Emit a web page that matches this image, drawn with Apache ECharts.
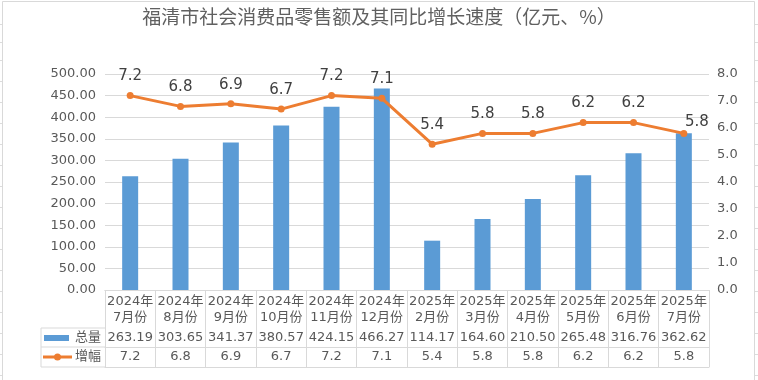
<!DOCTYPE html>
<html><head><meta charset="utf-8">
<script src="https://cdn.jsdelivr.net/npm/echarts@6/dist/echarts.min.js"></script>
<style>html,body{margin:0;padding:0;background:#fff}#c{width:758px;height:380px}</style>
</head><body><div id="c"></div>
<script>
const titleText = '福清市社会消费品零售额及其同比增长速度（亿元、%）';
const categories = ['2024年\n7月份','2024年\n8月份','2024年\n9月份','2024年\n10月份','2024年\n11月份','2024年\n12月份','2025年\n2月份','2025年\n3月份','2025年\n4月份','2025年\n5月份','2025年\n6月份','2025年\n7月份'];
const totalValues = [263.19, 303.65, 341.37, 380.57, 424.15, 466.27, 114.17, 164.60, 210.50, 265.48, 316.76, 362.62];
const growthValues = [7.2, 6.8, 6.9, 6.7, 7.2, 7.1, 5.4, 5.8, 5.8, 6.2, 6.2, 5.8];
const seriesNames = ['总量', '增幅'];
const leftAxis = {min: 0, max: 500, interval: 50, decimals: 2};
const rightAxis = {min: 0, max: 8, interval: 1, decimals: 1};

const FONT = '"DejaVu Sans", "Noto Sans CJK SC", sans-serif';
const TXT = '#595959';
const LINE = '#d9d9d9';
const BLUE = '#5B9BD5';
const ORANGE = '#ED7D31';

// layout
const gridLeft = 105, gridRight = 49, gridTop = 74, gridBottom = 90;
const W = 758, H = 380;
const tableTop = H - gridBottom;          // 290
const row1 = 38, row2 = 19, row3 = 20;    // row heights
const legendLeft = 41;

const growthData = growthValues.map((v, i) =>
  i === growthValues.length - 1 ? {value: v, label: {offset: [13, 8]}} : v);

const chart = echarts.init(document.getElementById('c'), null, {renderer: 'canvas'});

const y1 = tableTop + row1, y2 = y1 + row2, y3 = y2 + row3;

// faint spreadsheet cell lines outside the chart frame
const sheetRows = [24, 42, 60];
for (let y = 81; y < H; y += 21) sheetRows.push(y);
const sheetTicks = [];
sheetRows.forEach(y => {
  sheetTicks.push({type: 'line', silent: true, shape: {x1: 0, y1: y + 0.5, x2: 2, y2: y + 0.5}, style: {stroke: '#dcdcdc', lineWidth: 1}});
  sheetTicks.push({type: 'line', silent: true, shape: {x1: 755, y1: y + 0.5, x2: 758, y2: y + 0.5}, style: {stroke: '#dcdcdc', lineWidth: 1}});
});

const option = {
  animation: false,
  backgroundColor: '#fff',
  title: {
    text: titleText, left: 'center', top: 2,
    textStyle: {fontSize: 19, fontWeight: 'normal', color: '#606060', fontFamily: '"Noto Sans CJK SC", sans-serif'}
  },
  grid: {left: gridLeft, right: gridRight, top: gridTop, bottom: gridBottom},
  xAxis: [
    {
      type: 'category', data: categories, position: 'bottom',
      axisLine: {show: true, lineStyle: {color: LINE}},
      axisTick: {show: true, length: row1 + row2 + row3, interval: 0, lineStyle: {color: LINE}},
      axisLabel: {interval: 0, margin: 4, lineHeight: 16, fontSize: 13, color: TXT, fontFamily: FONT}
    },
    {
      type: 'category', data: categories, position: 'bottom', offset: row1,
      axisLine: {show: true, lineStyle: {color: LINE}}, axisTick: {show: false},
      axisLabel: {interval: 0, margin: 0, lineHeight: row2, fontSize: 13, color: TXT, fontFamily: FONT,
        formatter: (v, i) => totalValues[i].toFixed(2)}
    },
    {
      type: 'category', data: categories, position: 'bottom', offset: row1 + row2,
      axisLine: {show: true, lineStyle: {color: LINE}}, axisTick: {show: false},
      axisLabel: {interval: 0, margin: 0, lineHeight: row3, fontSize: 13, color: TXT, fontFamily: FONT,
        formatter: (v, i) => growthValues[i].toFixed(1)}
    },
    {
      type: 'category', data: categories, position: 'bottom', offset: row1 + row2 + row3,
      axisLine: {show: true, lineStyle: {color: LINE}}, axisTick: {show: false}, axisLabel: {show: false}
    }
  ],
  yAxis: [
    {
      type: 'value', min: leftAxis.min, max: leftAxis.max, interval: leftAxis.interval,
      axisLine: {show: false}, axisTick: {show: false},
      splitLine: {show: true, lineStyle: {color: LINE}},
      axisLabel: {margin: 9, fontSize: 13, color: TXT, fontFamily: FONT, formatter: v => v.toFixed(leftAxis.decimals)}
    },
    {
      type: 'value', min: rightAxis.min, max: rightAxis.max, interval: rightAxis.interval,
      axisLine: {show: false}, axisTick: {show: false}, splitLine: {show: false},
      axisLabel: {margin: 8, fontSize: 13, color: TXT, fontFamily: FONT, formatter: v => v.toFixed(rightAxis.decimals)}
    }
  ],
  series: [
    {
      name: seriesNames[0], type: 'bar', data: totalValues, barWidth: 16,
      itemStyle: {color: BLUE}
    },
    {
      name: seriesNames[1], type: 'line', yAxisIndex: 1, data: growthData,
      symbol: 'circle', symbolSize: 7,
      lineStyle: {color: ORANGE, width: 3}, itemStyle: {color: ORANGE},
      label: {show: true, position: 'top', distance: 8, fontSize: 15, color: '#404040', fontFamily: FONT,
        formatter: p => growthValues[p.dataIndex].toFixed(1)}
    }
  ],
  graphic: sheetTicks.concat([
    {type: 'rect', shape: {x: 2.5, y: 1.5, width: 752, height: 400}, style: {fill: 'none', stroke: LINE, lineWidth: 1}, silent: true},
    {type: 'line', shape: {x1: legendLeft, y1: y1, x2: gridLeft, y2: y1}, style: {stroke: LINE, lineWidth: 1}},
    {type: 'line', shape: {x1: legendLeft, y1: y2, x2: gridLeft, y2: y2}, style: {stroke: LINE, lineWidth: 1}},
    {type: 'line', shape: {x1: legendLeft, y1: y3, x2: gridLeft, y2: y3}, style: {stroke: LINE, lineWidth: 1}},
    {type: 'line', shape: {x1: legendLeft, y1: y1, x2: legendLeft, y2: y3}, style: {stroke: LINE, lineWidth: 1}},
    {type: 'rect', shape: {x: legendLeft + 3, y: y1 + 7, width: 25, height: 6}, style: {fill: BLUE}},
    {type: 'text', x: 88, y: y1 + row2 / 2, style: {text: seriesNames[0], align: 'center', verticalAlign: 'middle', fontSize: 13, fill: TXT, fontFamily: FONT}},
    {type: 'line', shape: {x1: legendLeft + 2, y1: y2 + row3 / 2, x2: legendLeft + 31, y2: y2 + row3 / 2}, style: {stroke: ORANGE, lineWidth: 3}},
    {type: 'circle', shape: {cx: legendLeft + 16.5, cy: y2 + row3 / 2, r: 3.5}, style: {fill: ORANGE}},
    {type: 'text', x: 88, y: y2 + row3 / 2, style: {text: seriesNames[1], align: 'center', verticalAlign: 'middle', fontSize: 13, fill: TXT, fontFamily: FONT}}
  ])
};
chart.setOption(option);
</script>
</body></html>
